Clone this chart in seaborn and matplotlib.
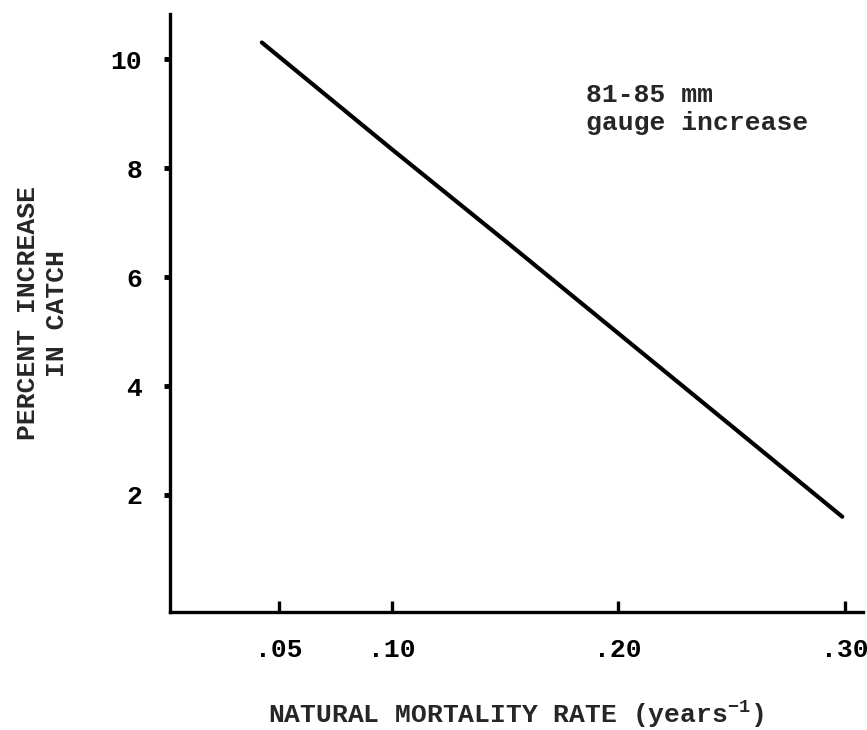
import pandas as pd
import seaborn as sns
import matplotlib
matplotlib.use("Agg")
import matplotlib.pyplot as plt

# data
mortality_rate = [0.0426, 0.10, 0.15, 0.20, 0.25, 0.299]
pct_increase = [10.31, 8.35, 6.67, 4.97, 3.27, 1.60]

x_ticks = [0.05, 0.10, 0.20, 0.30]
x_tick_labels = [".05", ".10", ".20", ".30"]
y_ticks = [2, 4, 6, 8, 10]

OUT = "out.png"
FS = 19


def main():
    sns.set_style("ticks")
    plt.rcParams["font.family"] = ["Liberation Mono", "DejaVu Sans Mono"]
    plt.rcParams["font.weight"] = "bold"
    plt.rcParams["axes.labelweight"] = "bold"
    plt.rcParams["mathtext.fontset"] = "custom"
    plt.rcParams["mathtext.rm"] = "Liberation Mono:bold"

    df = pd.DataFrame({"rate": mortality_rate, "pct": pct_increase})

    fig = plt.figure(figsize=(8.67, 7.3), dpi=100)
    ax = fig.add_axes([0.196, 0.1616, 0.799, 0.819])

    sns.lineplot(data=df, x="rate", y="pct", ax=ax, color="black", linewidth=3.0)

    ax.set_xlim(0.002, 0.308)
    ax.set_ylim(-0.15, 10.83)

    sns.despine(ax=ax)
    for side in ("left", "bottom"):
        ax.spines[side].set_linewidth(2.4)
        ax.spines[side].set_color("black")

    ax.set_xticks(x_ticks)
    ax.set_xticklabels(x_tick_labels)
    ax.set_yticks(y_ticks)
    ax.tick_params(axis="x", direction="in", length=8, width=2.4, pad=19,
                   labelsize=FS, colors="black")
    ax.tick_params(axis="y", direction="out", length=4, width=3.5, pad=16,
                   labelsize=FS, colors="black")

    ax.set_xlabel(r"NATURAL MORTALITY RATE (years$^{\mathregular{-1}}$)",
                  fontsize=FS, labelpad=26)
    ax.set_ylabel("PERCENT INCREASE\nIN CATCH", fontsize=FS, labelpad=30,
                  linespacing=1.25)

    ax.text(0.186, 9.56, "81-85 mm\ngauge increase", fontsize=FS,
            ha="left", va="top", linespacing=1.2)

    fig.savefig(OUT, dpi=100)
    plt.close(fig)


if __name__ == "__main__":
    main()
